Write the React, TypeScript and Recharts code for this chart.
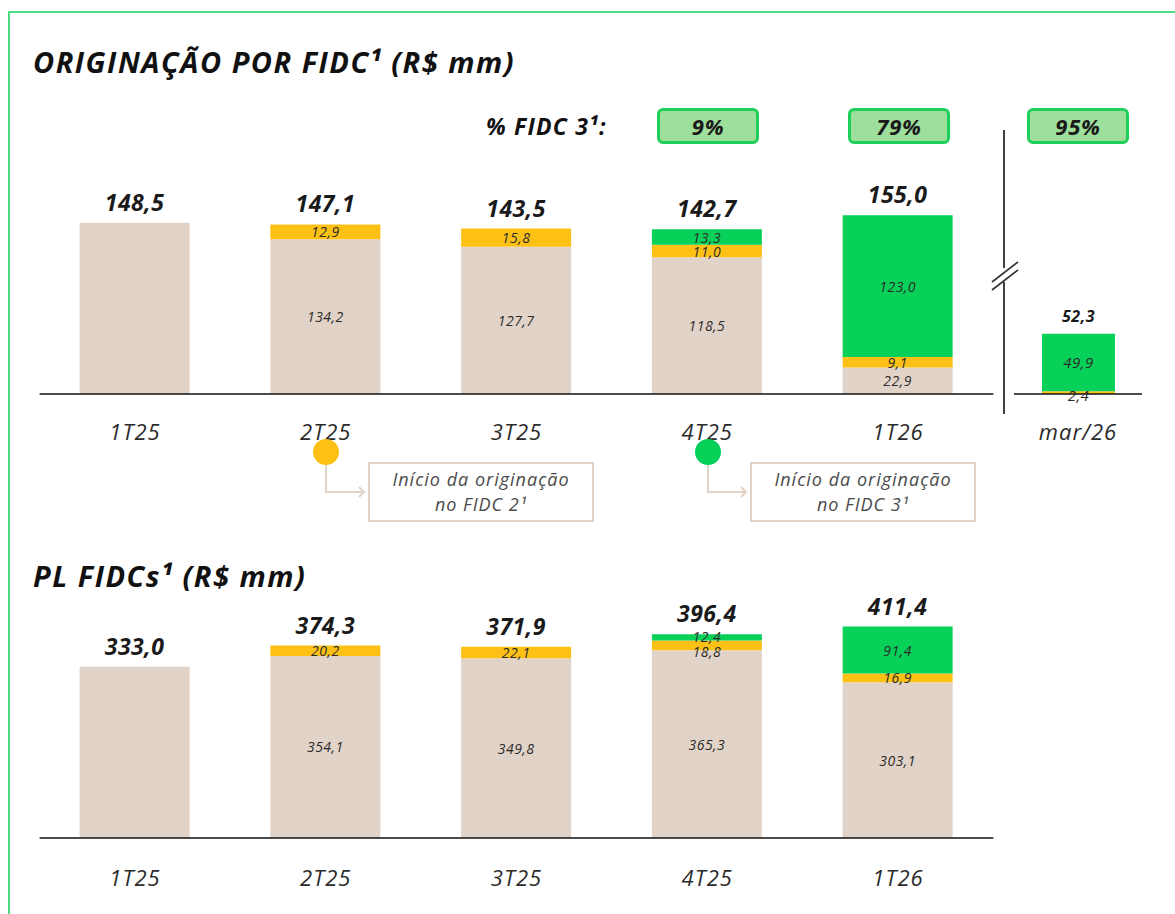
import { Bar, BarChart, LabelList, XAxis, YAxis } from "recharts";

const quarters = ["1T25", "2T25", "3T25", "4T25", "1T26"];

// originação por FIDC (R$ mm)
const origFidc1 = [148.5, 134.2, 127.7, 118.5, 22.9];
const origFidc2 = [0, 12.9, 15.8, 11.0, 9.1];
const origFidc3 = [0, 0, 0, 13.3, 123.0];
const origTotal = [148.5, 147.1, 143.5, 142.7, 155.0];

const monthLabel = ["mar/26"];
const monthFidc1 = [0];
const monthFidc2 = [2.4];
const monthFidc3 = [49.9];
const monthTotal = [52.3];

const pctLabels = ["4T25", "1T26", "mar/26"];
const pctFidc3 = ["9%", "79%", "95%"];

// PL FIDCs (R$ mm)
const plFidc1 = [333.0, 354.1, 349.8, 365.3, 303.1];
const plFidc2 = [0, 20.2, 22.1, 18.8, 16.9];
const plFidc3 = [0, 0, 0, 12.4, 91.4];
const plTotal = [333.0, 374.3, 371.9, 396.4, 411.4];

const BEIGE = "#e2d3c8";
const YELLOW = "#fdc116";
const GREEN = "#08d159";
const FONT = "'Open Sans', Lato, sans-serif";

type Key = "fidc1" | "fidc2" | "fidc3";
type Row = { name: string; fidc1: number; fidc2: number; fidc3: number; total: number };

const toRows = (names: string[], a: number[], b: number[], c: number[], t: number[]): Row[] =>
  names.map((name, i) => ({ name, fidc1: a[i], fidc2: b[i], fidc3: c[i], total: t[i] }));

const origRows = toRows(quarters, origFidc1, origFidc2, origFidc3, origTotal);
const monthRows = toRows(monthLabel, monthFidc1, monthFidc2, monthFidc3, monthTotal);
const plRows = toRows(quarters, plFidc1, plFidc2, plFidc3, plTotal);

const fmt = (v: number) => v.toFixed(1).replace(".", ",");
const keys: Key[] = ["fidc1", "fidc2", "fidc3"];

type StackProps = {
  rows: Row[];
  max: number;
  top: number;
  width: number;
  height: number;
  margin: { top: number; left: number; right: number };
  axisHeight: number;
  barSize: number;
  totalSize: number;
  segSize: number;
  tickDy: number;
};

function StackChart(props: StackProps) {
  const { rows, max, top, height, margin, axisHeight, barSize, totalSize, segSize, tickDy } = props;
  const plotH = height - margin.top - axisHeight;
  const pxPerUnit = plotH / max;

  // LabelList only gets the drawn (non-zero) segments, so rows are looked up by name
  const segLabel = (key: Key) => (p: any) => {
    const r = rows.find((row) => row.name === p.value);
    if (!r) return null;
    const v = r[key];
    if (!v) return null;
    const x = Number(p.x) + Number(p.width) / 2;
    const parts: any[] = [];
    const single = keys.filter((k) => r[k] > 0).length === 1;
    if (!single) {
      let cy = Number(p.y) + Number(p.height) / 2;
      const tight = r.fidc3 > 0 && r.fidc3 * pxPerUnit < 9;
      if (tight && key === "fidc3") cy -= 1;
      if (tight && key === "fidc2") cy += 6;
      if (key === "fidc2" && r.fidc2 * pxPerUnit < 4) cy += 2;
      parts.push(
        <text
          key="s"
          x={x}
          y={cy}
          textAnchor="middle"
          dominantBaseline="central"
          fontFamily={FONT}
          fontStyle="italic"
          fontSize={segSize}
          letterSpacing={0.5}
          fill="#2b2b2b"
        >
          {fmt(v)}
        </text>
      );
    }
    // total goes with the lowest drawn segment
    if (keys.find((k) => r[k] > 0) === key) {
      const yTop = margin.top + (max - r.total) * pxPerUnit;
      parts.push(
        <text
          key="t"
          x={x}
          y={yTop - 12}
          textAnchor="middle"
          fontFamily={FONT}
          fontStyle="italic"
          fontWeight={700}
          fontSize={totalSize}
          letterSpacing={0.5}
          fill="#1a1a1a"
        >
          {fmt(r.total)}
        </text>
      );
    }
    return <g key={`${key}-${r.name}`}>{parts}</g>;
  };

  const tick = (p: any) => (
    <text
      x={p.x}
      y={p.y + tickDy}
      textAnchor="middle"
      fontFamily={FONT}
      fontStyle="italic"
      fontSize={22}
      letterSpacing={1}
      fill="#2b2b2b"
    >
      {p.payload.value}
    </text>
  );

  return (
    <div style={{ position: "absolute", left: 0, top }}>
      <BarChart
        width={props.width}
        height={height}
        data={rows}
        margin={{ top: margin.top, right: margin.right, left: margin.left, bottom: 0 }}
        barCategoryGap={0}
      >
        <XAxis
          dataKey="name"
          height={axisHeight}
          tickLine={false}
          axisLine={{ stroke: "#111", strokeWidth: 1.6 }}
          tick={tick}
          interval={0}
        />
        <YAxis hide domain={[0, max]} />
        {keys.map((k, i) => (
          <Bar
            key={k}
            dataKey={k}
            stackId="s"
            fill={[BEIGE, YELLOW, GREEN][i]}
            barSize={barSize}
            isAnimationActive={false}
          >
            <LabelList dataKey="name" content={segLabel(k)} />
          </Bar>
        ))}
      </BarChart>
    </div>
  );
}

const pctCenters: Record<string, number> = { "4T25": 708, "1T26": 899, "mar/26": 1078 };

function Note({ cx, color, lines }: { cx: number; color: string; lines: string[] }) {
  return (
    <>
      <svg
        width={80}
        height={80}
        style={{ position: "absolute", left: cx - 20, top: 430, overflow: "visible" }}
      >
        <circle cx={20} cy={22} r={13} fill={color} />
        <polyline points="20,35 20,62 58,62" fill="none" stroke={BEIGE} strokeWidth={2} />
        <polyline points="53,57 58,62 53,67" fill="none" stroke={BEIGE} strokeWidth={2} />
      </svg>
      <div
        style={{
          position: "absolute",
          left: cx + 42,
          top: 462,
          width: 226,
          height: 60,
          border: `2.5px solid ${BEIGE}`,
          boxSizing: "border-box",
          display: "flex",
          flexDirection: "column",
          alignItems: "center",
          justifyContent: "center",
          fontFamily: FONT,
          fontStyle: "italic",
          fontSize: 18,
          lineHeight: "25px",
          color: "#4a4a4a",
          letterSpacing: 1,
        }}
      >
        {lines.map((l) => (
          <span key={l}>{l}</span>
        ))}
      </div>
    </>
  );
}

const titleStyle = {
  position: "absolute" as const,
  left: 33,
  fontFamily: FONT,
  fontStyle: "italic",
  fontWeight: 700,
  fontSize: 29,
  color: "#111",
  whiteSpace: "nowrap" as const,
  letterSpacing: 1.5,
};

export default function App() {
  return (
    <div
      style={{
        position: "absolute",
        left: 0,
        top: 0,
        width: 1175,
        height: 914,
        overflow: "hidden",
        background: "#fff",
      }}
    >
      <div
        style={{
          position: "absolute",
          left: 8,
          top: 11,
          width: 1167,
          height: 903,
          borderTop: "2.5px solid #4ade80",
          borderLeft: "2.5px solid #4ade80",
          boxSizing: "border-box",
        }}
      />
      <div style={{ ...titleStyle, top: 42 }}>ORIGINAÇÃO POR FIDC¹ (R$ mm)</div>
      <div
        style={{
          position: "absolute",
          left: 486,
          top: 110,
          fontFamily: FONT,
          fontStyle: "italic",
          fontWeight: 700,
          fontSize: 23,
          letterSpacing: 1.2,
          color: "#111",
          whiteSpace: "nowrap",
        }}
      >
        % FIDC 3¹:
      </div>
      {pctLabels.map((k, i) => (
        <div
          key={k}
          style={{
            position: "absolute",
            left: pctCenters[k] - 51,
            top: 108,
            width: 102,
            height: 36,
            boxSizing: "border-box",
            border: "3px solid #1fcf5c",
            borderRadius: 6,
            background: "#9fdf9c",
            display: "flex",
            alignItems: "center",
            justifyContent: "center",
            fontFamily: FONT,
            fontStyle: "italic",
            fontWeight: 700,
            fontSize: 22,
            letterSpacing: 0.8,
            color: "#1a1a1a",
          }}
        >
          {pctFidc3[i]}
        </div>
      ))}

      <StackChart
        rows={origRows}
        max={200}
        top={0}
        width={1175}
        height={460}
        margin={{ top: 163.4, left: 39.6, right: 181.6 }}
        axisHeight={66}
        barSize={110}
        totalSize={23}
        segSize={14}
        tickDy={38}
      />
      <StackChart
        rows={monthRows}
        max={200}
        top={0}
        width={1175}
        height={460}
        margin={{ top: 163.4, left: 1014, right: 33 }}
        axisHeight={66}
        barSize={73}
        totalSize={16}
        segSize={15}
        tickDy={38}
      />
      <svg
        width={1175}
        height={440}
        style={{ position: "absolute", left: 0, top: 0, pointerEvents: "none" }}
      >
        <line x1={1004} y1={130} x2={1004} y2={414} stroke="#111" strokeWidth={1.6} />
        <rect x={994} y={268} width={20} height={14} fill="#fff" />
        <line x1={992} y1={282} x2={1018} y2={262} stroke="#333" strokeWidth={1.6} />
        <line x1={992} y1={290} x2={1018} y2={270} stroke="#333" strokeWidth={1.6} />
      </svg>

      <Note cx={326} color="#fdc116" lines={["Início da originação", "no FIDC 2¹"]} />
      <Note cx={708} color={GREEN} lines={["Início da originação", "no FIDC 3¹"]} />

      <div style={{ ...titleStyle, top: 556 }}>PL FIDCs¹ (R$ mm)</div>
      <StackChart
        rows={plRows}
        max={450}
        top={460}
        width={1175}
        height={454}
        margin={{ top: 146.7, left: 39.6, right: 181.6 }}
        axisHeight={76}
        barSize={110}
        totalSize={23}
        segSize={14}
        tickDy={40}
      />
    </div>
  );
}
